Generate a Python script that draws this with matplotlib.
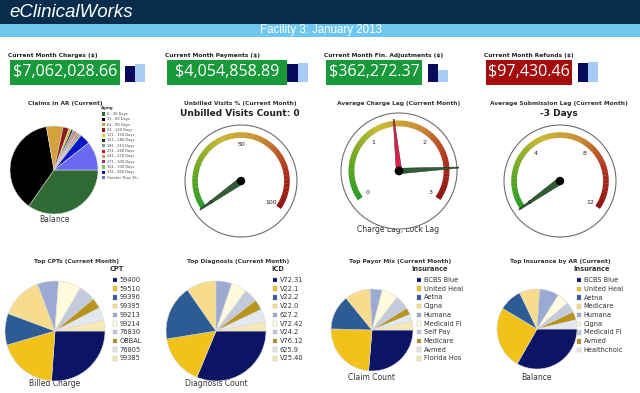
import matplotlib
matplotlib.use("Agg")
import matplotlib.pyplot as plt
import numpy as np
from matplotlib.colors import LinearSegmentedColormap
from matplotlib.patches import Circle, Polygon, Rectangle, Wedge

W, H = 640, 393

# KPI tiles
kpi_titles = ["Current Month Charges ($)", "Current Month Payments ($)",
              "Current Month Fin. Adjustments ($)", "Current Month Refunds ($)"]
kpi_values = ["$7,062,028.66", "$4,054,858.89", "$362,272.37", "$97,430.46"]
kpi_prev = [16, 18, 18, 19]
kpi_curr = [18, 19, 12, 20]

# Claims in AR (aging)
aging_labels = ["0 - 30 Days", "31 - 60 Days", "61 - 90 Days", "91 - 120 Days",
                "121 - 150 Days", "151 - 180 Days", "181 - 210 Days", "211 - 240 Days",
                "241 - 270 Days", "271 - 300 Days", "301 - 330 Days", "331 - 360 Days",
                "Greater Than 36..."]
aging_values = [125, 135, 22, 8, 3, 3, 3, 2, 2, 2, 3, 14, 38]
aging_colors = ["#2f6a34", "#000000", "#d4a23a", "#8e1c1c", "#e3c52a", "#1c3a1c",
                "#7f9c9c", "#e01010", "#f08878", "#a03070", "#86c064", "#0a14c8", "#6a6af0"]

# bottom row pies
cpt_labels = ["59400", "59510", "99396", "99395", "99213", "99214", "76830", "OBBAL", "76805", "99385"]
cpt_values = [92, 68, 36, 48, 24, 26, 19, 12, 15, 12]
icd_labels = ["V72.31", "V22.1", "V22.2", "V22.0", "627.2", "V72.42", "V24.2", "V76.12", "625.9", "V25.40"]
icd_values = [110, 57, 63, 34, 18, 18, 15, 12, 15, 10]
payor_labels = ["BCBS Blue", "United Heal", "Aetna", "Cigna", "Humana", "Medicaid Fl",
                "Self Pay", "Medicare", "Avmed", "Florida Hos"]
payor_values = [94, 86, 49, 36, 17, 23, 20, 10, 10, 12]
insar_labels = ["BCBS Blue", "United Heal", "Aetna", "Medicare", "Humana", "Cigna",
                "Medicaid Fl", "Avmed", "Healthchoic"]
insar_values = [118, 90, 33, 29, 28, 17, 15, 12, 13]
pie_colors = ["#0c1466", "#f2c21a", "#2d5b94", "#f6dc8c", "#9aaad2", "#fffbdc",
              "#c2cadc", "#b8941c", "#e2e8ee", "#f8e8b2"]

# gauges
unbilled_ticks = [0, 50, 100]
unbilled_value = 0
charge_ticks = [0, 1, 2, 3]
charge_lag = 1.43
lock_lag = 2.54
subm_ticks = [0, 4, 8, 12]
subm_value = -3

fig = plt.figure(figsize=(6.4, 3.93), dpi=100)
ax = fig.add_axes([0, 0, 1, 1])
ax.set_xlim(0, W)
ax.set_ylim(H, 0)
ax.axis("off")

# header
ax.add_patch(Rectangle((0, 0), W, 24, fc="#082d4c", lw=0))
ax.add_patch(Rectangle((0, 24), W, 13, fc="#6ec7ef", lw=0))
ax.text(9, 12.5, "eClinicalWorks", color="white", fontsize=13.5, style="italic",
        family="Liberation Sans", va="center", ha="left")
ax.text(321, 30.5, "Facility 3: January 2013", color="white", fontsize=8.3,
        family="Liberation Sans", va="center", ha="center")

# KPI tiles
tile_boxes = [(10, 120), (167, 287), (326, 422), (486, 572)]
tile_colors = ["#189a3b", "#189a3b", "#189a3b", "#a50d0d"]
bar_boxes = [(125, 145), (287, 308), (428, 448), (578, 598)]
for i in range(4):
    x0, x1 = tile_boxes[i]
    ax.text(x0 - 2, 55.5, kpi_titles[i], fontsize=4.2, weight="bold", color="#222",
            va="center", ha="left")
    ax.add_patch(Rectangle((x0, 60), x1 - x0, 25, fc=tile_colors[i], lw=0))
    ax.text((x0 + x1) / 2, 72.5, kpi_values[i], color="white", fontsize=11.6,
            family="Open Sans", va="center", ha="center")
    b0, b1 = bar_boxes[i]
    bax = fig.add_axes([b0 / W, 1 - 82 / H, (b1 - b0) / W, 20 / H])
    bax.bar([0, 1], [kpi_prev[i], kpi_curr[i]], width=1, color=["#0a0a5c", "#a6cbf4"])
    bax.set_xlim(-0.5, 1.5)
    bax.set_ylim(0, 20)
    bax.axis("off")


def px_axes(cx, cy, half):
    return fig.add_axes([(cx - half) / W, 1 - (cy + half) / H, 2 * half / W, 2 * half / H])


def pie_block(cx, cy, r, values, colors, caption, cap_y):
    p = px_axes(cx, cy, r)
    p.pie(values, colors=colors, startangle=0, counterclock=False,
          wedgeprops=dict(edgecolor="#d8d8d8", linewidth=0.4))
    p.set_xlim(-1, 1)
    p.set_ylim(-1, 1)
    ax.text(cx, cap_y, caption, fontsize=5.5, color="#333", ha="center", va="center")


def legend_block(x, y0, step, header, hx, labels, colors, size=4.8, msize=4.5):
    ax.text(hx, y0 - 11, header, fontsize=size, weight="bold", color="#333",
            ha="center", va="center")
    ys = y0 + step * np.arange(len(labels))
    for yy, lab, col in zip(ys, labels, colors):
        ax.add_patch(Rectangle((x - msize / 2, yy - msize / 2), msize, msize,
                               fc=col, ec="#999", lw=0.2))
        ax.text(x + msize / 2 + 2.5, yy, lab, fontsize=size, color="#333",
                ha="left", va="center")


# Claims in AR
ax.text(65, 104, "Claims in AR (Current)", fontsize=4.2, weight="bold", color="#333",
        ha="center", va="center")
pie_block(54, 170, 44, aging_values, aging_colors, "Balance", 220)
ax.text(107, 108.5, "Aging", fontsize=2.8, weight="bold", color="#333", ha="center", va="center")
for k, (lab, col) in enumerate(zip(aging_labels, aging_colors)):
    yy = 114 + 5.3 * k
    ax.add_patch(Rectangle((101.5, yy - 1.6), 3.2, 3.2, fc=col, lw=0))
    ax.text(107, yy, lab, fontsize=2.6, color="#444", ha="left", va="center")

# bottom row
titles = ["Top CPTs (Current Month)", "Top Diagnosis (Current Month)",
          "Top Payor Mix (Current Month)", "Top Insurance by AR (Current)"]
for tx, t in zip([77, 238, 400, 560], titles):
    ax.text(tx, 262, t, fontsize=4.2, weight="bold", color="#333", ha="center", va="center")

pie_block(55, 331, 50, cpt_values, pie_colors, "Billed Charge", 383)
legend_block(115, 280, 8.7, "CPT", 117, cpt_labels, pie_colors)
pie_block(216, 331, 50, icd_values, pie_colors, "Diagnosis Count", 383)
legend_block(275, 280, 8.7, "ICD", 278, icd_labels, pie_colors)
pie_block(372, 330, 41, payor_values, pie_colors, "Claim Count", 377)
legend_block(419, 280, 8.7, "Insurance", 430, payor_labels, pie_colors)
pie_block(537, 329, 40, insar_values, pie_colors, "Balance", 377)
legend_block(579, 280, 8.75, "Insurance", 592, insar_labels, pie_colors[:len(insar_labels)])

# gauges
arc_cmap = LinearSegmentedColormap.from_list(
    "gauge", ["#1f9a1f", "#6aa61e", "#c8b830", "#c88a30", "#b03018", "#8e0c0c"])
START, SPAN = 215.0, 250.0


def draw_gauge(cx, cy, R, ticks, needles):
    half = R + 2
    g = px_axes(cx, cy, half)
    g.set_xlim(-half, half)
    g.set_ylim(-half, half)
    g.axis("off")
    g.add_patch(Circle((0, 0), R, fc="white", ec="#6e6e6e", lw=0.8))
    vmin, vmax = ticks[0], ticks[-1]

    def ang(v):
        v = min(max(v, vmin), vmax)
        return START - SPAN * (v - vmin) / (vmax - vmin)

    n = 150
    arc_r = 0.87 * R
    for i in range(n):
        a0 = START - SPAN * i / n
        a1 = START - SPAN * (i + 1) / n
        g.add_patch(Wedge((0, 0), arc_r, a1, a0 + 0.4, width=0.1 * R,
                          fc=arc_cmap(i / (n - 1)), lw=0))
    for t in ticks:
        a = np.radians(ang(t))
        g.text(0.66 * R * np.cos(a), 0.66 * R * np.sin(a), str(t), fontsize=4.5,
               color="#222", ha="center", va="center")
    for val, col, length, hw in needles:
        a = np.radians(ang(val))
        ux, uy = np.cos(a), np.sin(a)
        nx, ny = -uy, ux
        pts = [(hw * nx, hw * ny), (length * ux + 0.5 * nx, length * uy + 0.5 * ny),
               (length * ux - 0.5 * nx, length * uy - 0.5 * ny), (-hw * nx, -hw * ny)]
        g.add_patch(Polygon(pts, closed=True, fc=col, ec="#1a1a1a", lw=0.3))
    g.add_patch(Circle((0, 0), 0.075 * R, fc="#000000", lw=0))


ax.text(240, 103, "Unbilled Visits % (Current Month)", fontsize=4.2, weight="bold",
        color="#333", ha="center", va="center")
ax.text(240, 113.5, "Unbilled Visits Count: 0", fontsize=6.5, weight="bold",
        color="#222", ha="center", va="center")
draw_gauge(241, 181, 56, unbilled_ticks, [(unbilled_value, "#2f5e33", 50, 3.4)])

ax.text(399, 104, "Average Charge Lag (Current Month)", fontsize=4.2, weight="bold",
        color="#333", ha="center", va="center")
draw_gauge(399, 171, 58, charge_ticks,
           [(charge_lag, "#e0204c", 52, 2.8), (lock_lag, "#2f5e33", 60, 2.8)])
ax.text(398, 229, "Charge Lag, Lock Lag", fontsize=5.5, color="#333", ha="center", va="center")

ax.text(559, 103, "Average Submission Lag (Current Month)", fontsize=4.2, weight="bold",
        color="#333", ha="center", va="center")
ax.text(559, 114, "-3 Days", fontsize=6.5, weight="bold", color="#222",
        ha="center", va="center")
draw_gauge(560, 181, 56, subm_ticks, [(subm_value, "#2f5e33", 50, 3.4)])

fig.savefig("out.png", dpi=100)
